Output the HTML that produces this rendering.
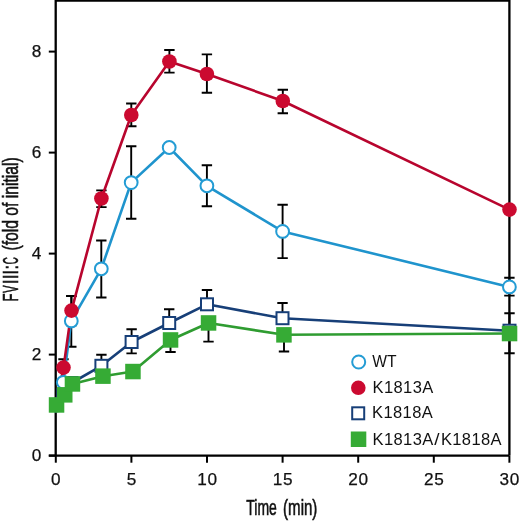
<!DOCTYPE html>
<html><head><meta charset="utf-8"><style>
html,body{margin:0;padding:0;background:#fff;}
body{width:520px;height:521px;overflow:hidden;font-family:"Liberation Sans",sans-serif;}
svg{display:block;will-change:transform;}
</style></head><body>
<svg width="520" height="521" viewBox="0 0 520 521">
<g stroke="#000" stroke-width="2.3" fill="none">
<path d="M55.7 0.5H509.4M55.7 -1V455.6M509.4 -1V455.6M48.8 455.6H509.4"/>
<path d="M48.8 455.6H55.8" stroke-width="2"/>
<path d="M48.8 354.6H55.8" stroke-width="2"/>
<path d="M48.8 253.6H55.8" stroke-width="2"/>
<path d="M48.8 152.6H55.8" stroke-width="2"/>
<path d="M48.8 51.6H55.8" stroke-width="2"/>
<path d="M55.8 455.6V462.7" stroke-width="2"/>
<path d="M131.4 455.6V462.7" stroke-width="2"/>
<path d="M207.0 455.6V462.7" stroke-width="2"/>
<path d="M282.6 455.6V462.7" stroke-width="2"/>
<path d="M358.2 455.6V462.7" stroke-width="2"/>
<path d="M433.8 455.6V462.7" stroke-width="2"/>
<path d="M509.4 455.6V462.7" stroke-width="2"/>
</g>
<g stroke="#000" stroke-width="1.9" fill="none">
<path d="M63.5 359.2V367.6M58.3 359.2h10.4M58.3 367.6h10.4"/>
<path d="M71.5 296.0V325.2M66.3 296.0h10.4M66.3 325.2h10.4"/>
<path d="M101.4 190.4V207.1M96.2 190.4h10.4M96.2 207.1h10.4"/>
<path d="M131.3 103.5V126.3M126.1 103.5h10.4M126.1 126.3h10.4"/>
<path d="M169.4 50.0V72.6M164.2 50.0h10.4M164.2 72.6h10.4"/>
<path d="M206.9 54.4V92.8M201.7 54.4h10.4M201.7 92.8h10.4"/>
<path d="M282.8 89.8V113.3M277.6 89.8h10.4M277.6 113.3h10.4"/>
<path d="M71.3 296.0V346.7M66.1 296.0h10.4M66.1 346.7h10.4"/>
<path d="M101.3 240.5V297.5M96.1 240.5h10.4M96.1 297.5h10.4"/>
<path d="M131.2 146.2V218.8M126.0 146.2h10.4M126.0 218.8h10.4"/>
<path d="M206.9 165.3V206.2M201.7 165.3h10.4M201.7 206.2h10.4"/>
<path d="M282.6 204.8V258.1M277.4 204.8h10.4M277.4 258.1h10.4"/>
<path d="M509.4 277.7V295.6M504.2 277.7h10.4M504.2 295.6h10.4"/>
<path d="M101.4 354.8V366.0M96.2 354.8h10.4M96.2 366.0h10.4"/>
<path d="M131.6 329.2V353.4M126.4 329.2h10.4M126.4 353.4h10.4"/>
<path d="M169.2 309.3V323.0M164.0 309.3h10.4M164.0 323.0h10.4"/>
<path d="M207.0 290.0V304.0M201.8 290.0h10.4M201.8 304.0h10.4"/>
<path d="M282.5 303.0V318.0M277.3 303.0h10.4M277.3 318.0h10.4"/>
<path d="M170.5 340.0V352.0M165.3 340.0h10.4M165.3 352.0h10.4"/>
<path d="M208.5 323.0V341.6M203.3 323.0h10.4M203.3 341.6h10.4"/>
<path d="M284.0 334.8V351.5M278.8 334.8h10.4M278.8 351.5h10.4"/>
<path d="M509.5 313.3V353.3M504.3 313.3h10.4M504.3 353.3h10.4"/>
</g>
<g fill="none" stroke-width="2.6" stroke-linejoin="round">
<polyline points="56.5,405.0 64.8,394.8 72.4,384.0 103.0,376.2 132.9,371.5 170.5,340.0 208.5,323.0 284.0,334.8 509.5,333.5" stroke="#2f9c31"/>
<polyline points="56.4,405.0 63.3,395.0 71.5,383.0 101.4,365.8 131.6,342.0 169.2,323.0 207.0,304.3 282.5,318.2 509.5,330.7" stroke="#173f78"/>
<polyline points="56.4,405.0 63.3,382.3 71.3,320.9 101.3,268.8 131.2,182.6 169.2,147.5 206.9,185.8 282.6,231.4 509.4,286.9" stroke="#1f94cd"/>
<polyline points="56.4,405.0 63.5,367.6 71.5,310.6 101.4,198.5 131.3,115.0 169.4,61.5 206.9,74.0 282.8,101.0 509.5,209.6" stroke="#b8052e"/>
</g>
<rect x="50.4" y="399.0" width="12" height="12" fill="#fff" stroke="#173f78" stroke-width="2"/>
<rect x="57.3" y="389.0" width="12" height="12" fill="#fff" stroke="#173f78" stroke-width="2"/>
<rect x="65.5" y="377.0" width="12" height="12" fill="#fff" stroke="#173f78" stroke-width="2"/>
<rect x="95.4" y="359.8" width="12" height="12" fill="#fff" stroke="#173f78" stroke-width="2"/>
<rect x="125.6" y="336.0" width="12" height="12" fill="#fff" stroke="#173f78" stroke-width="2"/>
<rect x="163.2" y="317.0" width="12" height="12" fill="#fff" stroke="#173f78" stroke-width="2"/>
<rect x="201.0" y="298.3" width="12" height="12" fill="#fff" stroke="#173f78" stroke-width="2"/>
<rect x="276.5" y="312.2" width="12" height="12" fill="#fff" stroke="#173f78" stroke-width="2"/>
<rect x="503.5" y="324.7" width="12" height="12" fill="#fff" stroke="#173f78" stroke-width="2"/>
<circle cx="56.4" cy="405.0" r="6.4" fill="#fff" stroke="#249cd4" stroke-width="2"/>
<circle cx="63.3" cy="382.3" r="6.4" fill="#fff" stroke="#249cd4" stroke-width="2"/>
<circle cx="71.3" cy="320.9" r="6.4" fill="#fff" stroke="#249cd4" stroke-width="2"/>
<circle cx="101.3" cy="268.8" r="6.4" fill="#fff" stroke="#249cd4" stroke-width="2"/>
<circle cx="131.2" cy="182.6" r="6.4" fill="#fff" stroke="#249cd4" stroke-width="2"/>
<circle cx="169.2" cy="147.5" r="6.4" fill="#fff" stroke="#249cd4" stroke-width="2"/>
<circle cx="206.9" cy="185.8" r="6.4" fill="#fff" stroke="#249cd4" stroke-width="2"/>
<circle cx="282.6" cy="231.4" r="6.4" fill="#fff" stroke="#249cd4" stroke-width="2"/>
<circle cx="509.4" cy="286.9" r="6.4" fill="#fff" stroke="#249cd4" stroke-width="2"/>
<circle cx="56.4" cy="405.0" r="7.3" fill="#cb0a30"/>
<circle cx="63.5" cy="367.6" r="7.3" fill="#cb0a30"/>
<circle cx="71.5" cy="310.6" r="7.3" fill="#cb0a30"/>
<circle cx="101.4" cy="198.5" r="7.3" fill="#cb0a30"/>
<circle cx="131.3" cy="115.0" r="7.3" fill="#cb0a30"/>
<circle cx="169.4" cy="61.5" r="7.3" fill="#cb0a30"/>
<circle cx="206.9" cy="74.0" r="7.3" fill="#cb0a30"/>
<circle cx="282.8" cy="101.0" r="7.3" fill="#cb0a30"/>
<circle cx="509.5" cy="209.6" r="7.3" fill="#cb0a30"/>
<rect x="48.8" y="397.2" width="15.5" height="15.5" fill="#36ab35"/>
<rect x="57.0" y="387.1" width="15.5" height="15.5" fill="#36ab35"/>
<rect x="64.7" y="376.2" width="15.5" height="15.5" fill="#36ab35"/>
<rect x="95.2" y="368.4" width="15.5" height="15.5" fill="#36ab35"/>
<rect x="125.2" y="363.8" width="15.5" height="15.5" fill="#36ab35"/>
<rect x="162.8" y="332.2" width="15.5" height="15.5" fill="#36ab35"/>
<rect x="200.8" y="315.2" width="15.5" height="15.5" fill="#36ab35"/>
<rect x="276.2" y="327.1" width="15.5" height="15.5" fill="#36ab35"/>
<rect x="501.8" y="325.8" width="15.5" height="15.5" fill="#36ab35"/>
<g font-family="Liberation Sans, sans-serif" font-size="17.2" fill="#111" stroke="#111" stroke-width="0.25">
<text x="41.3" y="460.9" text-anchor="end">0</text>
<text x="41.3" y="359.9" text-anchor="end">2</text>
<text x="41.3" y="258.9" text-anchor="end">4</text>
<text x="41.3" y="157.9" text-anchor="end">6</text>
<text x="41.3" y="56.9" text-anchor="end">8</text>
<text x="56.2" y="484.9" text-anchor="middle" letter-spacing="0.7">0</text>
<text x="131.8" y="484.9" text-anchor="middle" letter-spacing="0.7">5</text>
<text x="207.4" y="484.9" text-anchor="middle" letter-spacing="0.7">10</text>
<text x="283.0" y="484.9" text-anchor="middle" letter-spacing="0.7">15</text>
<text x="358.6" y="484.9" text-anchor="middle" letter-spacing="0.7">20</text>
<text x="434.2" y="484.9" text-anchor="middle" letter-spacing="0.7">25</text>
<text x="509.8" y="484.9" text-anchor="middle" letter-spacing="0.7">30</text>
</g>
<g font-family="Liberation Sans, sans-serif" font-size="21.5" fill="#111" stroke="#111" stroke-width="0.6">
<text transform="translate(246.3,514.8) scale(0.651,1)" x="0" y="0">Time</text>
<text transform="translate(283.1,514.8) scale(0.70,1)" x="0" y="0">(min)</text>
<text transform="translate(18.2,301.50) rotate(-90) scale(0.612,1)">F</text>
<text transform="translate(18.2,292.70) rotate(-90) scale(0.508,1)">V</text>
<text transform="translate(18.2,283.88) rotate(-90) scale(0.730,1)">I</text>
<text transform="translate(18.2,279.08) rotate(-90) scale(0.730,1)">I</text>
<text transform="translate(18.2,274.48) rotate(-90) scale(0.730,1)">I</text>
<text transform="translate(18.2,269.38) rotate(-90) scale(0.730,1)">:</text>
<text transform="translate(18.2,264.36) rotate(-90) scale(0.457,1)">C</text>
<text transform="translate(18.2,250.5) rotate(-90) scale(0.73,1)" x="0" y="0">(fold of initial)</text>
</g>
<circle cx="358.7" cy="362" r="6.5" fill="#fff" stroke="#249cd4" stroke-width="2"/>
<circle cx="358.3" cy="387.8" r="7.3" fill="#cb0a30"/>
<rect x="352.2" y="407.3" width="12" height="12" fill="#fff" stroke="#173f78" stroke-width="2"/>
<rect x="350.8" y="431.5" width="15.5" height="15.5" fill="#36ab35"/>
<g font-family="Liberation Sans, sans-serif" font-size="16.5" fill="#111">
<text transform="translate(372.3,367) scale(0.95,1)">WT</text>
<text x="372.5" y="392.9" letter-spacing="0.4">K1813A</text>
<text x="372" y="418.3" letter-spacing="0.4">K1818A</text>
<text x="372.5" y="444.6" letter-spacing="0.4">K1813A</text>
<text transform="translate(434.2,444.6) scale(1.15,1)">/</text>
<text x="440.9" y="444.6" letter-spacing="0.4">K1818A</text>
</g>
</svg>
</body></html>
